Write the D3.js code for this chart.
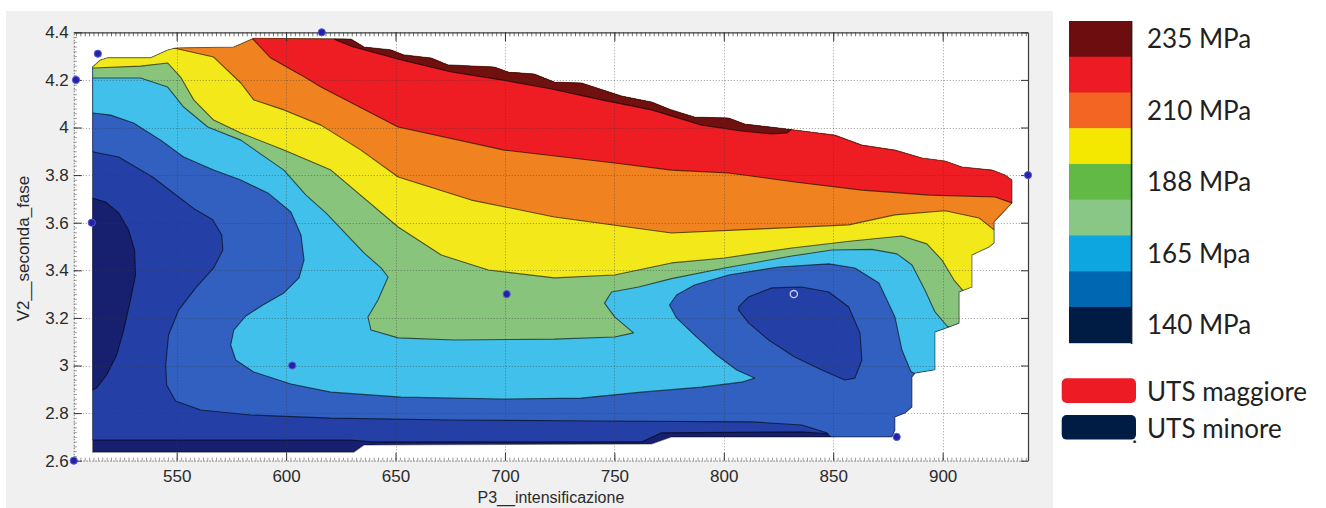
<!DOCTYPE html>
<html>
<head>
<meta charset="utf-8">
<script src="https://cdn.jsdelivr.net/npm/d3@7"></script>
<style>
  html, body { margin: 0; padding: 0; background: #ffffff; }
  svg { display: block; }
</style>
</head>
<body>
<svg id="chart" width="1326" height="508"></svg>
<script>
// ---------- axis limits and ticks ----------
const p3Limits = [503, 939];
const v2Limits = [2.6, 4.4];
const p3Ticks = [550, 600, 650, 700, 750, 800, 850, 900];
const v2Ticks = [2.6, 2.8, 3, 3.2, 3.4, 3.6, 3.8, 4, 4.2, 4.4];

// ---------- measured samples (P3, V2) ----------
const sampleP3 = [503, 504, 511.2, 514, 616.3, 602.8, 700.8, 832, 879, 939];
const sampleV2 = [2.6, 4.2, 3.6, 4.31, 4.4, 3.0, 3.3, 3.3, 2.7, 3.8];
const sampleHollow = [false, false, false, false, false, false, false, true, false, false];

// ---------- interpolated surface: region covered by the fit ----------
const fitRegion = [
  [511.6,2.636],[511.6,4.255],[515.2,4.284],[518.4,4.293],[538.1,4.293],[545.9,4.326],
  [549.5,4.334],[576.1,4.338],[585.2,4.375],[629.6,4.372],[635.6,4.338],[648.0,4.326],
  [653.9,4.305],[666.3,4.292],[674.1,4.263],[695.1,4.254],[701.5,4.233],[713.4,4.225],
  [722.6,4.191],[735.0,4.187],[753.3,4.132],[767.0,4.107],[776.1,4.074],[786.6,4.044],
  [802.2,4.040],[809.5,4.015],[825.1,3.998],[850.7,3.968],[863.1,3.926],[878.2,3.905],
  [890.6,3.872],[901.1,3.859],[908.9,3.834],[922.6,3.821],[928.5,3.800],[931.7,3.779],
  [931.7,3.683],[923.5,3.603],[923.5,3.515],[921.2,3.498],[913.4,3.464],[913.4,3.330],
  [907.5,3.309],[907.5,3.178],[902.9,3.162],[896.5,3.141],[896.5,2.982],[887.4,2.968],
  [886.0,2.952],[886.0,2.826],[882.8,2.800],[878.2,2.784],[878.2,2.729],[876.8,2.700],
  [776.1,2.700],[767.0,2.670],[635.6,2.666],[631.0,2.636]
];

// ---------- filled contour rings (areas at or above each band) ----------
const aboveBand1 = [
  [485,4.55],[985,4.55],[985,2.50],[856.2,2.50],[856.2,2.666],[849.4,2.712],[835.6,2.721],
  [771.5,2.717],[762.4,2.679],[638.8,2.679],[629.6,2.687],[485,2.687]
];
const lowPocketLeft = [
  [506.1,3.704],[511.6,3.704],[517.5,3.687],[523.5,3.641],[528.0,3.570],[530.8,3.485],
  [531.2,3.380],[528.9,3.275],[525.8,3.149],[522.6,3.044],[518.0,2.960],[513.4,2.905],
  [511.6,2.897],[506.1,2.897]
];
const aboveBand2 = [
  [485,4.55],[485,3.898],[511.6,3.898],[523.5,3.876],[539.0,3.792],[550.9,3.708],[558.7,3.654],
  [566.5,3.612],[570.6,3.548],[571.1,3.485],[566.9,3.410],[558.7,3.326],[550.9,3.233],
  [546.3,3.128],[545.0,3.002],[545.4,2.918],[549.5,2.851],[561.0,2.813],[583.9,2.792],
  [620.5,2.779],[675.5,2.771],[744.1,2.767],[812.7,2.763],[835.6,2.750],[847.1,2.717],
  [854.0,2.645],[854,2.50],[985,2.50],[985,4.55]
];
const lowPocketRight = [
  [806.8,3.246],[811.3,3.288],[821.9,3.326],[835.6,3.330],[848.0,3.309],[857.1,3.246],
  [862.2,3.137],[863.1,3.023],[859.9,2.947],[855.3,2.939],[844.8,2.981],[832.4,3.036],
  [820.5,3.107],[811.3,3.179],[806.8,3.233]
];
const aboveBand3 = [
  [485,4.55],[485,4.061],[512.0,4.061],[519.8,4.052],[530.3,4.019],[542.7,3.947],[553.2,3.876],
  [566.9,3.821],[579.3,3.779],[591.7,3.725],[602.2,3.645],[606.8,3.548],[608.2,3.443],
  [605.9,3.368],[599.0,3.305],[589.4,3.254],[581.6,3.208],[576.1,3.149],[574.7,3.086],
  [577.0,3.023],[585.2,2.973],[602.2,2.922],[620.5,2.888],[652.6,2.867],[698.3,2.859],
  [735.0,2.863],[762.4,2.888],[789.8,2.909],[808.1,2.930],[814.1,2.947],[805.9,2.981],
  [796.7,3.044],[787.5,3.120],[778.4,3.200],[775.2,3.254],[778.4,3.296],[786.6,3.338],
  [802.2,3.380],[825.1,3.414],[848.0,3.427],[859.9,3.410],[870.9,3.347],[878.2,3.204],
  [881.4,3.065],[885.5,2.975],[900,2.90],[990,2.90],[990,4.55]
];
const aboveBand4 = [
  [485,4.55],[485,4.208],[512.0,4.208],[533.5,4.208],[545.9,4.170],[553.2,4.086],[564.2,4.002],
  [579.3,3.947],[599.0,3.821],[609.1,3.716],[618.2,3.641],[635.6,3.473],[643.4,3.410],
  [646.6,3.372],[642.0,3.275],[637.4,3.204],[638.8,3.149],[651.2,3.116],[676.8,3.107],
  [722.6,3.111],[750.1,3.120],[758.8,3.137],[750.1,3.204],[745.5,3.262],[748.7,3.309],
  [761.1,3.330],[776.1,3.365],[800.4,3.410],[831.1,3.460],[849.4,3.485],[867.7,3.488],
  [879.1,3.469],[886.0,3.422],[891.9,3.317],[896.5,3.225],[902.0,3.166],[908.9,3.137],
  [990,3.137],[990,4.55]
];
const aboveBand5 = [
  [485,4.55],[485,4.250],[512.0,4.250],[533.5,4.258],[545.9,4.271],[551.8,4.212],[557.8,4.116],
  [566.9,4.031],[579.3,3.977],[599.0,3.905],[620.5,3.821],[651.2,3.582],[670.9,3.464],
  [692.4,3.401],[722.6,3.368],[750.1,3.380],[776.1,3.431],[800.4,3.452],[831.1,3.494],
  [858.5,3.523],[881.4,3.544],[892.8,3.511],[899.7,3.443],[905.2,3.359],[909.8,3.309],
  [990,3.275],[990,4.55]
];
const aboveBand6 = [
  [542.7,4.55],[542.7,4.410],[548.6,4.334],[566.9,4.296],[579.3,4.187],[585.2,4.116],
  [599.0,4.074],[615.9,4.010],[634.2,3.905],[651.2,3.792],[684.6,3.695],[722.6,3.624],
  [776.1,3.557],[817.3,3.574],[857.1,3.591],[878.2,3.633],[901.1,3.650],[916.6,3.620],
  [923.5,3.570],[950,3.536],[990,3.536],[990,4.55]
];
const aboveBand7 = [
  [579.3,4.55],[579.3,4.410],[585.2,4.368],[593.0,4.292],[606.8,4.221],[615.9,4.170],
  [651.2,4.002],[699.7,3.905],[750.1,3.851],[776.1,3.821],[802.2,3.809],[832.4,3.771],
  [863.1,3.737],[893.8,3.716],[923.9,3.708],[931.7,3.683],[950,3.675],[990,3.675],[990,4.55]
];
const aboveBand8 = [
  [615.9,4.55],[615.9,4.410],[622.7,4.368],[629.6,4.342],[652.6,4.284],[675.5,4.233],
  [698.3,4.200],[721.2,4.162],[744.1,4.116],[767.0,4.074],[789.8,4.010],[808.1,3.985],
  [821.9,3.973],[828.8,3.977],[833.4,4.010],[835.6,4.074],[835.6,4.55]
];

// plot palette, lowest band first
const bandFill = ['#17206e', '#2440a6', '#3160c0', '#40c0ea', '#88c47c',
                  '#f2e81a', '#f0821f', '#ee1d23', '#70100f'];

// painting order of the filled contours
const patches = [
  { band: 0, ring: fitRegion, outline: false },
  { band: 1, ring: aboveBand1, outline: true },
  { band: 0, ring: lowPocketLeft, outline: true },
  { band: 2, ring: aboveBand2, outline: true },
  { band: 1, ring: lowPocketRight, outline: true },
  { band: 3, ring: aboveBand3, outline: true },
  { band: 4, ring: aboveBand4, outline: true },
  { band: 5, ring: aboveBand5, outline: true },
  { band: 6, ring: aboveBand6, outline: true },
  { band: 7, ring: aboveBand7, outline: true },
  { band: 8, ring: aboveBand8, outline: true }
];

// ---------- legend ----------
const legendSwatches = ['#6d0d10', '#ed1c24', '#f26522', '#f4e800', '#62b946',
                        '#88c785', '#0ea6e0', '#0067b2', '#001b44'];
const legendLabelRow = [0, 2, 4, 6, 8];
const legendLabelText = ['235 MPa', '210 MPa', '188 MPa', '165 Mpa', '140 MPa'];
const extremeLabels = ['UTS maggiore', 'UTS minore'];
const extremeColors = ['#ed1c24', '#001b44'];

// ---------- layout ----------
const svg = d3.select('#chart');
const plot = { left: 73.8, right: 1028, top: 32.3, bottom: 460.7 };
const tickFont = 'Liberation Sans, Arial, Helvetica, sans-serif';
const legendFont = 'Lato, Calibri, Carlito, sans-serif';

// figure panel
svg.append('rect').attr('x', 6).attr('y', 11).attr('width', 1047).attr('height', 497)
  .attr('fill', '#f0f0f0');

const x = d3.scaleLinear().domain(p3Limits).range([plot.left, plot.right]);
const y = d3.scaleLinear().domain(v2Limits).range([plot.bottom, plot.top]);
const ringPath = d3.line().x(d => x(d[0])).y(d => y(d[1]));

// axes background
svg.append('rect')
  .attr('x', x(p3Limits[0])).attr('y', y(v2Limits[1]))
  .attr('width', x(p3Limits[1]) - x(p3Limits[0]))
  .attr('height', y(v2Limits[0]) - y(v2Limits[1]))
  .attr('fill', '#ffffff');

svg.append('defs').append('clipPath').attr('id', 'fitClip')
  .append('path').attr('d', ringPath(fitRegion) + 'Z');

// filled contours
svg.append('g').attr('clip-path', 'url(#fitClip)')
  .selectAll('path').data(patches).join('path')
  .attr('d', p => ringPath(p.ring) + 'Z')
  .attr('fill', p => bandFill[p.band])
  .attr('stroke', p => p.outline ? '#000' : 'none')
  .attr('stroke-opacity', 0.6)
  .attr('stroke-width', 1.1)
  .attr('stroke-linejoin', 'round');

// edge of the fitted region
svg.append('path').attr('d', ringPath(fitRegion) + 'Z')
  .attr('fill', 'none').attr('stroke', '#000').attr('stroke-opacity', 0.45)
  .attr('stroke-width', 1.1).attr('stroke-linejoin', 'round');

// dotted grid
const grid = svg.append('g')
  .attr('stroke', '#3a3a3a').attr('stroke-opacity', 0.5)
  .attr('stroke-dasharray', '1,2').attr('stroke-width', 1);
grid.selectAll('line.gx').data(p3Ticks).join('line').attr('class', 'gx')
  .attr('x1', d => Math.round(x(d)) + 0.5).attr('x2', d => Math.round(x(d)) + 0.5)
  .attr('y1', plot.top).attr('y2', plot.bottom);
grid.selectAll('line.gy').data(v2Ticks.slice(1, -1)).join('line').attr('class', 'gy')
  .attr('y1', d => Math.round(y(d)) + 0.5).attr('y2', d => Math.round(y(d)) + 0.5)
  .attr('x1', plot.left).attr('x2', plot.right);

// axes
const p3Minor = d3.range(504, 939, 2);
const v2Minor = d3.range(2.62, 4.4, 0.02);
const plainNumber = d => String(+d.toFixed(2));

function styleAxis(g, lineColor, dashed) {
  g.select('.domain').attr('stroke', lineColor).attr('stroke-width', 1.2)
    .attr('stroke-dasharray', dashed ? '1.5,1.5' : null);
  g.selectAll('.tick line').attr('stroke', '#333').attr('stroke-width', 1);
  g.selectAll('.tick text').attr('fill', '#2b2b2b')
    .attr('font-family', tickFont).attr('font-size', 17);
}

svg.append('g').attr('transform', `translate(0,${plot.bottom})`)
  .call(d3.axisBottom(x).tickValues(p3Minor).tickSize(-3).tickSizeOuter(0).tickFormat(''))
  .call(g => { g.select('.domain').remove(); g.selectAll('.tick line').attr('stroke', '#555').attr('stroke-opacity', 0.6); });
svg.append('g').attr('transform', `translate(0,${plot.top})`)
  .call(d3.axisTop(x).tickValues(p3Minor).tickSize(-4).tickSizeOuter(0).tickFormat(''))
  .call(g => { g.select('.domain').remove(); g.selectAll('.tick line').attr('stroke', '#444').attr('stroke-opacity', 0.75); });
svg.append('g').attr('transform', `translate(${plot.left},0)`)
  .call(d3.axisLeft(y).tickValues(v2Minor).tickSize(-3).tickSizeOuter(0).tickFormat(''))
  .call(g => { g.select('.domain').remove(); g.selectAll('.tick line').attr('stroke', '#555').attr('stroke-opacity', 0.6); });

svg.append('g').attr('transform', `translate(0,${plot.bottom})`)
  .call(d3.axisBottom(x).tickValues(p3Ticks).tickSize(-8).tickSizeOuter(0).tickPadding(9)
    .tickFormat(plainNumber))
  .call(g => styleAxis(g, '#8a8a8a', true));
svg.append('g').attr('transform', `translate(0,${plot.top})`)
  .call(d3.axisTop(x).tickValues(p3Ticks).tickSize(-9).tickSizeOuter(0).tickFormat(''))
  .call(g => styleAxis(g, '#3a3a3a', false));
svg.append('g').attr('transform', `translate(${plot.left},0)`)
  .call(d3.axisLeft(y).tickValues(v2Ticks).tickSize(-8).tickSizeOuter(0).tickPadding(5)
    .tickFormat(plainNumber))
  .call(g => styleAxis(g, '#8a8a8a', true));
svg.append('g').attr('transform', `translate(${plot.right},0)`)
  .call(d3.axisRight(y).tickValues(v2Ticks).tickSize(-7).tickSizeOuter(0).tickFormat(''))
  .call(g => styleAxis(g, '#3a3a3a', false));

// axis titles
svg.append('text')
  .attr('x', (plot.left + plot.right) / 2).attr('y', 503)
  .attr('text-anchor', 'middle').attr('font-family', tickFont).attr('font-size', 16)
  .attr('fill', '#2b2b2b').text('P3__intensificazione');
svg.append('text')
  .attr('transform', `translate(29,${(plot.top + plot.bottom) / 2 + 2}) rotate(-90)`)
  .attr('text-anchor', 'middle').attr('font-family', tickFont).attr('font-size', 17)
  .attr('fill', '#2b2b2b').text('V2__seconda_fase');

// sample markers
const samples = sampleP3.map((p, i) => ({ p3: p, v2: sampleV2[i], hollow: sampleHollow[i] }));
svg.append('g').selectAll('circle').data(samples).join('circle')
  .attr('cx', d => x(d.p3)).attr('cy', d => y(d.v2)).attr('r', 3.6)
  .attr('fill', d => d.hollow ? 'none' : '#2323a8')
  .attr('stroke', d => d.hollow ? '#c9cff0' : '#5a5ad8')
  .attr('stroke-width', d => d.hollow ? 1.3 : 1);

// ---------- colour legend ----------
const rows = d3.scaleBand().domain(d3.range(legendSwatches.length)).range([21, 342.7]);
const legend = svg.append('g');
legend.selectAll('rect').data(legendSwatches).join('rect')
  .attr('x', 1069).attr('y', (d, i) => rows(i))
  .attr('width', 62).attr('height', rows.bandwidth() + 0.5)
  .attr('fill', d => d);
legend.append('line').attr('x1', 1131.6).attr('x2', 1131.6).attr('y1', 21).attr('y2', 344)
  .attr('stroke', '#222').attr('stroke-width', 1.6);
legend.selectAll('text').data(legendLabelText).join('text')
  .attr('x', 1147).attr('y', (d, i) => rows(legendLabelRow[i]) + rows.bandwidth() / 2)
  .attr('dy', '0.36em').attr('font-family', legendFont).attr('font-size', 26)
  .attr('fill', '#231f20').text(d => d);

const extremeTop = [378.3, 415];
const extremes = svg.append('g');
extremes.selectAll('rect').data(extremeColors).join('rect')
  .attr('x', 1061.7).attr('y', (d, i) => extremeTop[i])
  .attr('width', 74.3).attr('height', 24.6).attr('rx', 5).attr('fill', d => d);
extremes.selectAll('text.lab').data(extremeLabels).join('text').attr('class', 'lab')
  .attr('x', 1147).attr('y', (d, i) => extremeTop[i] + 13.5)
  .attr('dy', '0.36em').attr('font-family', legendFont).attr('font-size', 26)
  .attr('fill', '#231f20').text(d => d);
extremes.append('text').attr('x', 1132).attr('y', 443)
  .attr('font-family', legendFont).attr('font-size', 22).attr('fill', '#231f20').text('.');
</script>
</body>
</html>
